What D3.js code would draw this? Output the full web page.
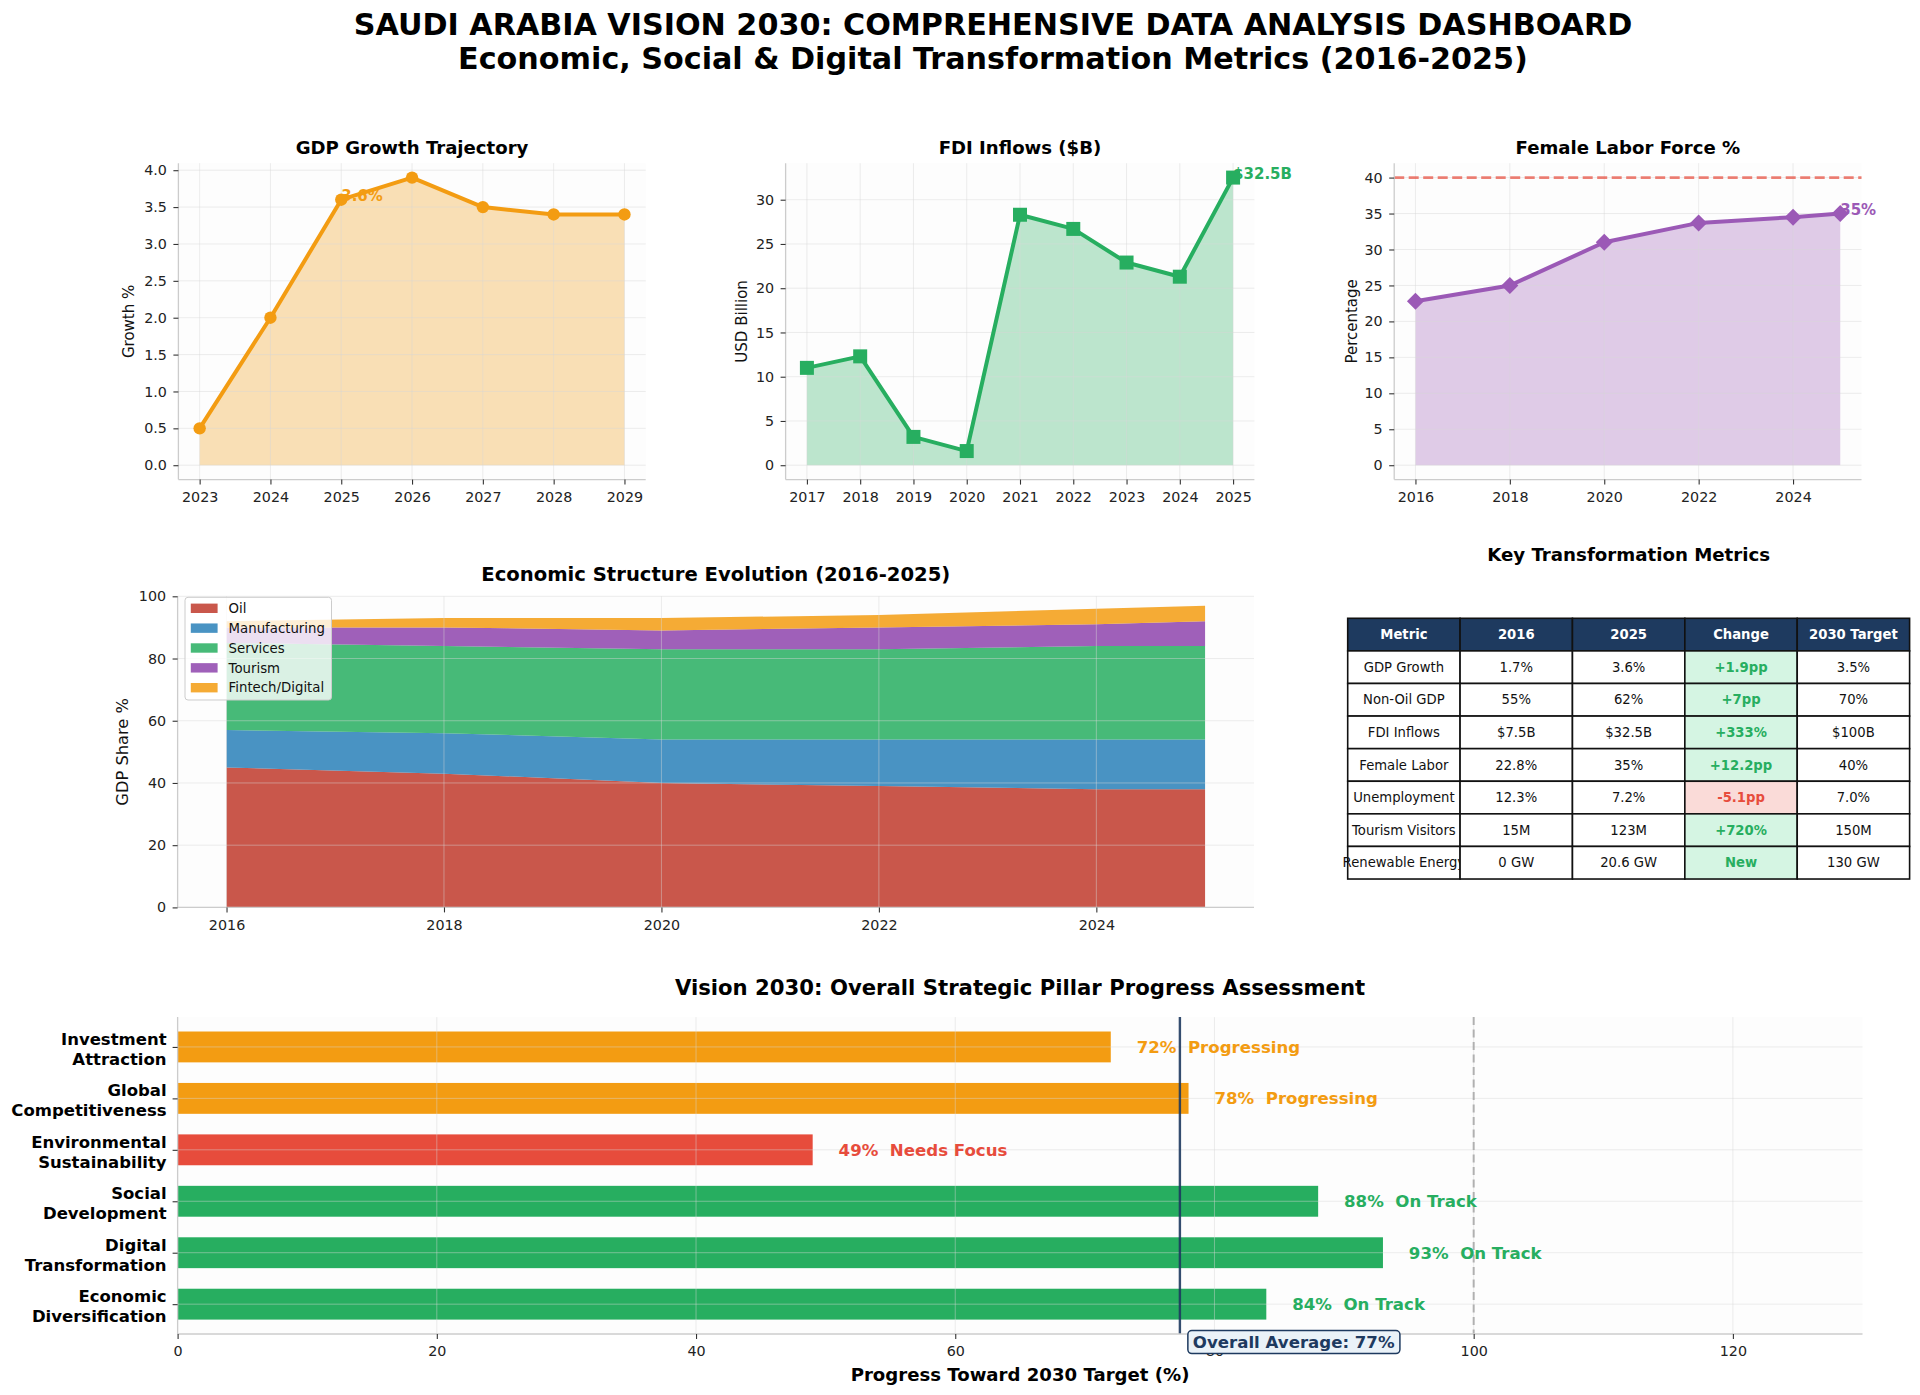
<!DOCTYPE html>
<html>
<head>
<meta charset="utf-8">
<script src="https://cdn.jsdelivr.net/npm/d3@7"></script>
<style>
  body { margin: 0; background: #fff; }
  svg { display: block; font-family: "DejaVu Sans", sans-serif; }
  text { white-space: pre; }
</style>
</head>
<body>
<div id="chart"></div>
<script>
// ---- data ----
const gdpYears = [2023, 2024, 2025, 2026, 2027, 2028, 2029]
const gdpGrowth = [0.5, 2.0, 3.6, 3.9, 3.5, 3.4, 3.4]

const fdiYears = [2017, 2018, 2019, 2020, 2021, 2022, 2023, 2024, 2025]
const fdiInflows = [11.0, 12.3, 3.2, 1.6, 28.3, 26.7, 22.9, 21.3, 32.5]

const femaleYears = [2016, 2018, 2020, 2022, 2024, 2025]
const femaleLabor = [22.8, 25.0, 31.0, 33.7, 34.5, 35.0]
const femaleTarget = 40

const structureYears = [2016, 2018, 2020, 2022, 2024, 2025]
const sectors = ['Oil', 'Manufacturing', 'Services', 'Tourism', 'Fintech/Digital']
const oilShare = [45, 43, 40, 39, 38, 38]
const manufacturingShare = [12, 13, 14, 15, 16, 16]
const servicesShare = [28, 28, 29, 29, 30, 30]
const tourismShare = [5, 6, 6, 7, 7, 8]
const fintechShare = [2, 3, 4, 4, 5, 5]

const tableHeader = ['Metric', '2016', '2025', 'Change', '2030 Target']
const metricNames = ['GDP Growth', 'Non-Oil GDP', 'FDI Inflows', 'Female Labor', 'Unemployment', 'Tourism Visitors', 'Renewable Energy']
const base2016 = ['1.7%', '55%', '$7.5B', '22.8%', '12.3%', '15M', '0 GW']
const value2025 = ['3.6%', '62%', '$32.5B', '35%', '7.2%', '123M', '20.6 GW']
const changes = ['+1.9pp', '+7pp', '+333%', '+12.2pp', '-5.1pp', '+720%', 'New']
const target2030 = ['3.5%', '70%', '$100B', '40%', '7.0%', '150M', '130 GW']

const pillars = ['Economic\nDiversification', 'Digital\nTransformation', 'Social\nDevelopment',
  'Environmental\nSustainability', 'Global\nCompetitiveness', 'Investment\nAttraction']
const pillarProgress = [84, 93, 88, 49, 78, 72]

// ---- styling ----
const W = 1920, H = 1395
const GREEN = '#27ae60', ORANGE = '#f39c12', RED = '#e74c3c', PURPLE = '#9b59b6'
const NAVY = '#1e3a5f'
const sectorColors = ['#c0392b', '#2980b9', '#27ae60', '#8e44ad', '#f39c12']
const TICK = 14.3

const svg = d3.select('#chart').append('svg').attr('width', W).attr('height', H)
svg.append('rect').attr('width', W).attr('height', H).attr('fill', '#fff')

const padded = ([a, b], f = 0.05) => [a - (b - a) * f, b + (b - a) * f]

function panel(box) {
  const g = svg.append('g')
  g.append('rect')
    .attr('x', box.x0).attr('y', box.y0)
    .attr('width', box.x1 - box.x0).attr('height', box.y1 - box.y0)
    .attr('fill', '#fdfdfd')
  return g
}

function grid(g, box, x, y, xTicks, yTicks) {
  const gg = g.append('g').attr('stroke', '#d6d6d6').attr('stroke-opacity', 0.45).attr('stroke-width', 1)
  gg.selectAll(null).data(xTicks).join('line')
    .attr('x1', d => x(d)).attr('x2', d => x(d)).attr('y1', box.y0).attr('y2', box.y1)
  gg.selectAll(null).data(yTicks).join('line')
    .attr('y1', d => y(d)).attr('y2', d => y(d)).attr('x1', box.x0).attr('x2', box.x1)
}

function styleAxis(sel, size = TICK) {
  sel.attr('font-family', 'DejaVu Sans').attr('font-size', size)
  sel.select('.domain').remove()
  sel.selectAll('.tick line').attr('stroke', '#333').attr('stroke-width', 1.1)
  sel.selectAll('.tick text').attr('fill', '#222')
}

function axes(g, box, x, y, o) {
  g.append('line').attr('x1', box.x0).attr('x2', box.x0).attr('y1', box.y0).attr('y2', box.y1)
    .attr('stroke', '#cccccc').attr('stroke-width', 1.3)
  g.append('line').attr('x1', box.x0).attr('x2', box.x1).attr('y1', box.y1).attr('y2', box.y1)
    .attr('stroke', '#cccccc').attr('stroke-width', 1.3)
  g.append('g').attr('transform', `translate(0,${box.y1})`)
    .call(d3.axisBottom(x).tickValues(o.xTicks).tickFormat(o.xFmt || d3.format('d')).tickSize(5).tickPadding(7.3))
    .call(styleAxis)
  if (o.yTicks) {
    g.append('g').attr('transform', `translate(${box.x0},0)`)
      .call(d3.axisLeft(y).tickValues(o.yTicks).tickFormat(o.yFmt || d3.format('d')).tickSize(5).tickPadding(6.5))
      .call(styleAxis)
  }
}

function title(g, box, text, y, size = 18.1) {
  g.append('text').attr('x', (box.x0 + box.x1) / 2).attr('y', y)
    .attr('text-anchor', 'middle').attr('font-weight', 'bold').attr('font-size', size)
    .attr('fill', '#000').text(text)
}

function yLabel(g, box, text, cx, size = 15) {
  g.append('text')
    .attr('transform', `translate(${cx},${(box.y0 + box.y1) / 2}) rotate(-90)`)
    .attr('dy', '0.35em').attr('text-anchor', 'middle').attr('font-size', size)
    .attr('fill', '#111').text(text)
}

const markers = {
  circle: d3.symbol(d3.symbolCircle, Math.PI * 6.2 * 6.2),
  square: d3.symbol(d3.symbolSquare, 14 * 14),
  diamond: () => 'M0,-8.5L8.5,0L0,8.5L-8.5,0Z'
}

function linePanel(box, years, values, o) {
  const g = panel(box)
  const x = d3.scaleLinear().domain(padded(d3.extent(years))).range([box.x0, box.x1])
  const y = d3.scaleLinear().domain(padded([0, d3.max(values.concat(o.ref || []))])).range([box.y1, box.y0])
  const pts = years.map((yr, i) => [yr, values[i]])

  g.append('path').datum(pts)
    .attr('d', d3.area().x(d => x(d[0])).y0(y(0)).y1(d => y(d[1])))
    .attr('fill', o.color).attr('fill-opacity', 0.3)
  grid(g, box, x, y, o.xTicks, o.yTicks)

  if (o.ref != null) {
    g.append('line').attr('x1', box.x0).attr('x2', box.x1).attr('y1', y(o.ref)).attr('y2', y(o.ref))
      .attr('stroke', RED).attr('stroke-opacity', 0.7).attr('stroke-width', 2.6).attr('stroke-dasharray', '10,4.5')
  }

  g.append('path').datum(pts)
    .attr('d', d3.line().x(d => x(d[0])).y(d => y(d[1])))
    .attr('fill', 'none').attr('stroke', o.color).attr('stroke-width', 4).attr('stroke-linejoin', 'round')
  g.selectAll(null).data(pts).join('path')
    .attr('transform', d => `translate(${x(d[0])},${y(d[1])})`)
    .attr('d', markers[o.marker]()).attr('fill', o.color)

  axes(g, box, x, y, o)
  title(g, box, o.title, 153.5)
  yLabel(g, box, o.ylabel, o.ylabelX)

  const p = pts[o.labelAt]
  g.append('text').attr('x', x(p[0])).attr('y', y(p[1]) + 1)
    .attr('font-size', 15).attr('font-weight', 'bold').attr('fill', o.color).text(o.label)
}

// ---- suptitle ----
svg.append('text').attr('x', 993).attr('y', 35).attr('text-anchor', 'middle')
  .attr('font-size', 30.2).attr('font-weight', 'bold').attr('fill', '#000')
  .text('SAUDI ARABIA VISION 2030: COMPREHENSIVE DATA ANALYSIS DASHBOARD')
svg.append('text').attr('x', 993).attr('y', 68.5).attr('text-anchor', 'middle')
  .attr('font-size', 30.2).attr('font-weight', 'bold').attr('fill', '#000')
  .text('Economic, Social & Digital Transformation Metrics (2016-2025)')

// ---- top row ----
const topY0 = 163.2, topY1 = 479.6
linePanel({ x0: 178.4, x1: 645.7, y0: topY0, y1: topY1 }, gdpYears, gdpGrowth, {
  color: ORANGE, marker: 'circle', title: 'GDP Growth Trajectory', ylabel: 'Growth %', ylabelX: 128.6,
  xTicks: gdpYears, yTicks: d3.range(0, 4.01, 0.5), yFmt: d3.format('.1f'),
  labelAt: 2, label: '3.6%'
})
linePanel({ x0: 785.6, x1: 1254.4, y0: topY0, y1: topY1 }, fdiYears, fdiInflows, {
  color: GREEN, marker: 'square', title: 'FDI Inflows ($B)', ylabel: 'USD Billion', ylabelX: 741.3,
  xTicks: fdiYears, yTicks: d3.range(0, 31, 5),
  labelAt: fdiYears.length - 1, label: '$32.5B'
})
linePanel({ x0: 1394.2, x1: 1861.5, y0: topY0, y1: topY1 }, femaleYears, femaleLabor, {
  color: PURPLE, marker: 'diamond', title: 'Female Labor Force %', ylabel: 'Percentage', ylabelX: 1351.4,
  xTicks: [2016, 2018, 2020, 2022, 2024], yTicks: d3.range(0, 41, 5), ref: femaleTarget,
  labelAt: femaleYears.length - 1, label: '35%'
})

// ---- economic structure (stacked area) ----
{
  const box = { x0: 177.6, x1: 1254, y0: 596.3, y1: 907.4 }
  const g = panel(box)
  const x = d3.scaleLinear().domain(padded(d3.extent(structureYears))).range([box.x0, box.x1])
  const y = d3.scaleLinear().domain([0, 100]).range([box.y1, box.y0])
  const shares = [oilShare, manufacturingShare, servicesShare, tourismShare, fintechShare]
  const rows = structureYears.map((yr, i) => {
    const r = { year: yr }
    sectors.forEach((s, k) => (r[s] = shares[k][i]))
    return r
  })
  const series = d3.stack().keys(sectors)(rows)
  g.selectAll(null).data(series).join('path')
    .attr('d', d3.area().x(d => x(d.data.year)).y0(d => y(d[0])).y1(d => y(d[1])))
    .attr('fill', (d, i) => sectorColors[i]).attr('fill-opacity', 0.85)

  const xTicks = [2016, 2018, 2020, 2022, 2024]
  const yTicks = d3.range(0, 101, 20)
  grid(g, box, x, y, xTicks, yTicks)
  axes(g, box, x, y, { xTicks, yTicks })
  title(g, box, 'Economic Structure Evolution (2016-2025)', 581, 19.6)
  yLabel(g, box, 'GDP Share %', 122.3, 16.3)

  const lg = g.append('g').attr('transform', `translate(${box.x0 + 7.4},${box.y0 + 1})`)
  lg.append('rect').attr('width', 146.5).attr('height', 102.7).attr('rx', 3)
    .attr('fill', '#fff').attr('fill-opacity', 0.8).attr('stroke', '#cccccc').attr('stroke-width', 1)
  const item = lg.selectAll(null).data(sectors).join('g')
    .attr('transform', (d, i) => `translate(0,${11 + i * 19.85})`)
  item.append('rect').attr('x', 5.8).attr('y', -4.7).attr('width', 26.8).attr('height', 9.4)
    .attr('fill', (d, i) => sectorColors[i]).attr('fill-opacity', 0.85)
  item.append('text').attr('x', 43.6).attr('dy', '0.35em').attr('font-size', 13.3).attr('fill', '#111').text(d => d)
}

// ---- key metrics table ----
{
  const t = { x0: 1347.7, y0: 618.3, colW: 112.38, rowH: 32.59 }
  const g = svg.append('g')
  g.append('text').attr('x', t.x0 + t.colW * 2.5).attr('y', 561).attr('text-anchor', 'middle')
    .attr('font-size', 18.2).attr('font-weight', 'bold').attr('fill', '#000').text('Key Transformation Metrics')
  const rows = [tableHeader].concat(metricNames.map((m, i) => [m, base2016[i], value2025[i], changes[i], target2030[i]]))
  rows.forEach((row, r) => {
    row.forEach((val, c) => {
      const cx = t.x0 + c * t.colW, cy = t.y0 + r * t.rowH
      const isHead = r === 0
      const isChange = !isHead && c === 3
      const bad = isChange && val.startsWith('-')
      g.append('rect').attr('x', cx).attr('y', cy).attr('width', t.colW).attr('height', t.rowH)
        .attr('fill', isHead ? NAVY : isChange ? (bad ? '#fadbd8' : '#d5f5e3') : '#fff')
        .attr('stroke', '#111').attr('stroke-width', 1.6)
      g.append('text').attr('x', cx + t.colW / 2).attr('y', cy + t.rowH / 2).attr('dy', '0.35em')
        .attr('text-anchor', 'middle').attr('font-size', 13.2)
        .attr('font-weight', isHead || isChange ? 'bold' : 'normal')
        .attr('fill', isHead ? '#fff' : isChange ? (bad ? RED : GREEN) : '#111')
        .text(val)
    })
  })
}

// ---- pillar progress (horizontal bars) ----
{
  const box = { x0: 177.6, x1: 1862.5, y0: 1017.1, y1: 1334 }
  const g = panel(box)
  const x = d3.scaleLinear().domain([0, 130]).range([box.x0, box.x1])
  const half = 0.3
  const y = d3.scaleLinear().domain(padded([-half, pillars.length - 1 + half])).range([box.y1, box.y0])
  const status = v => v >= 80 ? ['On Track', GREEN] : v >= 60 ? ['Progressing', ORANGE] : ['Needs Focus', RED]
  const avg = d3.mean(pillarProgress)

  g.selectAll(null).data(pillarProgress).join('rect')
    .attr('x', x(0)).attr('width', d => x(d) - x(0))
    .attr('y', (d, i) => y(i + half)).attr('height', (d, i) => y(i - half) - y(i + half))
    .attr('fill', d => status(d)[1])

  const xTicks = d3.range(0, 121, 20)
  grid(g, box, x, y, xTicks, d3.range(pillars.length))

  g.append('line').attr('x1', x(100)).attr('x2', x(100)).attr('y1', box.y0).attr('y2', box.y1)
    .attr('stroke', '#a0a0a0').attr('stroke-width', 2).attr('stroke-dasharray', '8,4.5').attr('stroke-opacity', 0.8)
  g.append('line').attr('x1', x(avg)).attr('x2', x(avg)).attr('y1', box.y0).attr('y2', box.y1)
    .attr('stroke', NAVY).attr('stroke-width', 2.4).attr('stroke-opacity', 0.9)

  g.selectAll(null).data(pillarProgress).join('text')
    .attr('x', d => x(d + 2)).attr('y', (d, i) => y(i)).attr('dy', '0.35em')
    .attr('font-size', 16.6).attr('font-weight', 'bold').attr('fill', d => status(d)[1])
    .text(d => `${d}%  ${status(d)[0]}`)

  axes(g, box, x, y, { xTicks })
  g.append('g').attr('transform', `translate(${box.x0},0)`)
    .call(d3.axisLeft(y).tickValues(d3.range(pillars.length)).tickFormat('').tickSize(5))
    .call(styleAxis)
  const lab = g.selectAll(null).data(pillars).join('text')
    .attr('x', box.x0 - 11).attr('y', (d, i) => y(i) - 2)
    .attr('text-anchor', 'end').attr('font-size', 16.5).attr('font-weight', 'bold').attr('fill', '#000')
  lab.each(function (d) {
    const parts = d.split('\n')
    d3.select(this).selectAll('tspan').data(parts).join('tspan')
      .attr('x', box.x0 - 11).attr('dy', (p, k) => k ? 19.8 : 0).text(p => p)
  })

  title(g, box, 'Vision 2030: Overall Strategic Pillar Progress Assessment', 994.5, 21.2)
  g.append('text').attr('x', (box.x0 + box.x1) / 2).attr('y', 1380.5).attr('text-anchor', 'middle')
    .attr('font-size', 18.1).attr('font-weight', 'bold').attr('fill', '#000').text('Progress Toward 2030 Target (%)')

  const note = g.append('g')
  const nt = note.append('text').attr('x', x(avg + 1)).attr('y', y(-0.73)).attr('dy', '0.35em')
    .attr('font-size', 16.6).attr('font-weight', 'bold').attr('fill', NAVY)
    .text(`Overall Average: ${Math.round(avg)}%`)
  const bb = nt.node().getBBox()
  note.insert('rect', 'text').attr('x', bb.x - 5).attr('y', bb.y - 2)
    .attr('width', bb.width + 10).attr('height', bb.height + 4).attr('rx', 4)
    .attr('fill', '#eaf2f8').attr('stroke', NAVY).attr('stroke-width', 1.5)
}
</script>
</body>
</html>
